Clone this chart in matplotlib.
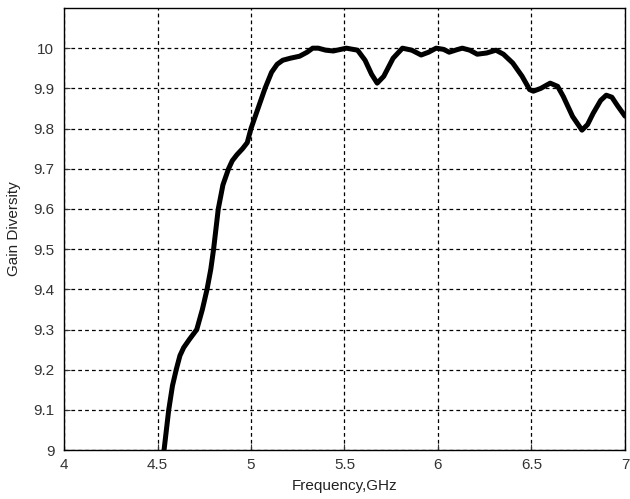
import numpy as np
import matplotlib.pyplot as plt

plt.rcParams['font.family'] = ['Liberation Sans', 'DejaVu Sans']

# values
freq_ghz = [4.535, 4.56, 4.58, 4.60, 4.62, 4.64, 4.67, 4.71, 4.74, 4.765, 4.785, 4.80,
            4.825, 4.85, 4.88, 4.90, 4.925, 4.955, 4.98, 5.0, 5.03, 5.075, 5.11, 5.14,
            5.17, 5.21, 5.26, 5.30, 5.33, 5.36, 5.40, 5.44, 5.48, 5.51, 5.57, 5.61,
            5.645, 5.675, 5.71, 5.76, 5.81, 5.86, 5.91, 5.95, 5.99, 6.03, 6.06, 6.10,
            6.13, 6.17, 6.21, 6.26, 6.31, 6.35, 6.40, 6.45, 6.49, 6.51, 6.55, 6.60,
            6.64, 6.67, 6.72, 6.77, 6.80, 6.83, 6.87, 6.90, 6.93, 6.96, 7.0]
gain_div = [9.0, 9.1, 9.16, 9.2, 9.235, 9.255, 9.275, 9.3, 9.35, 9.4, 9.45, 9.5,
            9.6, 9.66, 9.7, 9.72, 9.735, 9.75, 9.765, 9.8, 9.84, 9.9, 9.94, 9.96,
            9.97, 9.975, 9.98, 9.99, 10.0, 10.0, 9.995, 9.993, 9.997, 10.0, 9.995, 9.97,
            9.935, 9.913, 9.93, 9.975, 10.0, 9.995, 9.983, 9.99, 10.0, 9.997, 9.99, 9.996,
            10.0, 9.995, 9.985, 9.988, 9.995, 9.985, 9.963, 9.93, 9.897, 9.893, 9.9, 9.913,
            9.905, 9.88, 9.83, 9.796, 9.81, 9.838, 9.87, 9.883, 9.878, 9.857, 9.831]

x_ticks = [4, 4.5, 5, 5.5, 6, 6.5, 7]
x_labels = ['4', '4.5', '5', '5.5', '6', '6.5', '7']
y_ticks = [9, 9.1, 9.2, 9.3, 9.4, 9.5, 9.6, 9.7, 9.8, 9.9, 10]
y_labels = ['9', '9.1', '9.2', '9.3', '9.4', '9.5', '9.6', '9.7', '9.8', '9.9', '10']

fig = plt.figure(figsize=(6.3, 4.99), dpi=100)
ax = fig.add_axes([0.1016, 0.098, 0.8904, 0.886])

ax.plot(freq_ghz, gain_div, color='black', linewidth=3.6, solid_joinstyle='round',
        solid_capstyle='round')

ax.set_xlim(4, 7)
ax.set_ylim(9, 10.1)
ax.set_xticks(x_ticks)
ax.set_xticklabels(x_labels)
ax.set_yticks(y_ticks)
ax.set_yticklabels(y_labels)
ax.tick_params(direction='in', length=4, labelsize=11, colors='#333333', pad=6)
ax.tick_params(axis='y', pad=7)
ax.grid(True, color='black', linestyle=(0, (3, 2.5)), linewidth=0.9)
for s in ax.spines.values():
    s.set_linewidth(1.0)

ax.set_xlabel('Frequency,GHz', fontsize=11, labelpad=5, color='#222222')
ax.set_ylabel('Gain Diversity', fontsize=11, labelpad=9, color='#222222')

fig.savefig('out.png', dpi=100)
